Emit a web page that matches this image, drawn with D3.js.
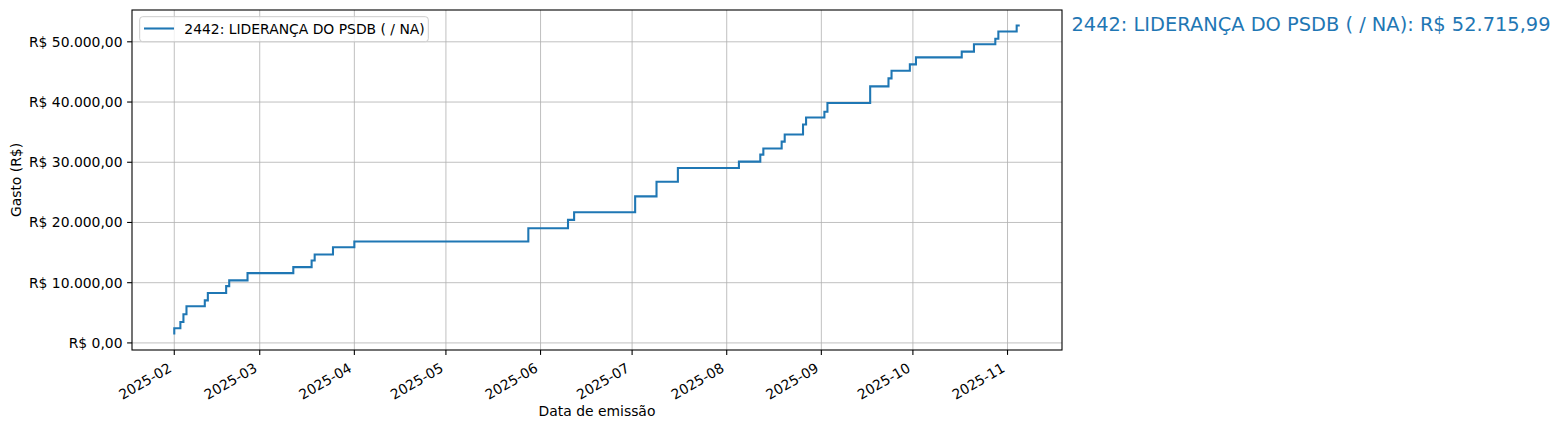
<!DOCTYPE html>
<html><head><meta charset="utf-8">
<script src="https://cdn.jsdelivr.net/npm/d3@7"></script>
<style>body{margin:0;background:#fff;} text{font-family:"DejaVu Sans",sans-serif;}</style>
</head><body>
<svg id="c" width="1561" height="430"></svg>
<script>
const dates = ["2025-02-01","2025-02-03","2025-02-04","2025-02-05","2025-02-11","2025-02-12","2025-02-18","2025-02-19","2025-02-25",
"2025-03-12","2025-03-18","2025-03-19","2025-03-25","2025-04-01","2025-05-28","2025-06-10","2025-06-12","2025-07-02","2025-07-09",
"2025-07-16","2025-08-05","2025-08-12","2025-08-13","2025-08-19","2025-08-20","2025-08-26","2025-08-27","2025-09-02","2025-09-03",
"2025-09-17","2025-09-23","2025-09-24","2025-09-30","2025-10-02","2025-10-17","2025-10-21","2025-10-28","2025-10-29","2025-11-04","2025-11-05"];
const values = [1390,2434,3477,4752,6076,7070,8278,9437,10381,
11589,12583,13692,14685,15894,16838,19040,20430,21690,24340,
26770,29050,30100,31270,32270,33430,34600,36270,37430,38380,
39850,42600,43930,45200,46250,47420,48370,49600,50500,51700,52715.99];
const yTicks = [0,10000,20000,30000,40000,50000];
const xTickLabels = ["2025-02","2025-03","2025-04","2025-05","2025-06","2025-07","2025-08","2025-09","2025-10","2025-11"];
const seriesName = "2442: LIDERANÇA DO PSDB ( / NA)";
const yLabel = "Gasto (R$)";
const xLabel = "Data de emissão";

const L=132, R=1062, T=10, B=350;
const svg = d3.select("#c");
const parse = d3.utcParse("%Y-%m-%d");
const data = dates.map((d,i)=>({d:parse(d), v:values[i]}));

const xmin = d3.min(data,d=>d.d), xmax = d3.max(data,d=>d.d);
const xr = xmax - xmin;
const x = d3.scaleUtc().domain([new Date(+xmin - 0.05*xr), new Date(+xmax + 0.05*xr)]).range([L,R]);
const vmin = d3.min(values), vmax = d3.max(values), vr = vmax - vmin;
const y = d3.scaleLinear().domain([vmin-0.05*vr, vmax+0.05*vr]).range([B,T]);

const fmt = v => "R$ " + d3.format(",.2f")(v).replace(/,/g,"#").replace(/\./g,",").replace(/#/g,".");

const xTicks = xTickLabels.map(s=>parse(s+"-01"));

// grid
const g = svg.append("g");
g.selectAll(".gx").data(xTicks).enter().append("line")
 .attr("x1",d=>x(d)).attr("x2",d=>x(d)).attr("y1",T).attr("y2",B)
 .attr("stroke","#b0b0b0").attr("stroke-width",0.8);
g.selectAll(".gy").data(yTicks).enter().append("line")
 .attr("x1",L).attr("x2",R).attr("y1",d=>y(d)).attr("y2",d=>y(d))
 .attr("stroke","#b0b0b0").attr("stroke-width",0.8);

// line
const line = d3.line().x(d=>x(d.d)).y(d=>y(d.v)).curve(d3.curveStepBefore);
svg.append("path").datum(data).attr("d",line).attr("fill","none")
 .attr("stroke","#1f77b4").attr("stroke-width",2.08).attr("stroke-linejoin","miter").attr("stroke-linecap","butt");

// spines
svg.append("rect").attr("x",L).attr("y",T).attr("width",R-L).attr("height",B-T)
 .attr("fill","none").attr("stroke","#000").attr("stroke-width",1.1);

// y ticks
yTicks.forEach(v=>{
  svg.append("line").attr("x1",L-4.9).attr("x2",L).attr("y1",y(v)).attr("y2",y(v)).attr("stroke","#000").attr("stroke-width",1.1);
  svg.append("text").attr("x",L-9.5).attr("y",y(v)).attr("dy","0.36em").attr("text-anchor","end")
   .attr("font-size",13.9).attr("fill","#000").text(fmt(v));
});
// x ticks
xTicks.forEach((d,i)=>{
  const px = x(d);
  svg.append("line").attr("x1",px).attr("x2",px).attr("y1",B).attr("y2",B+4.9).attr("stroke","#000").attr("stroke-width",1.1);
  svg.append("text").attr("transform",`translate(${px-1.6},${B+9.7+11.2}) rotate(-30)`)
   .attr("text-anchor","end").attr("font-size",13.9).attr("fill","#000").text(xTickLabels[i]);
});

// axis labels
svg.append("text").attr("x",(L+R)/2).attr("y",416).attr("text-anchor","middle").attr("font-size",13.9).text(xLabel);
svg.append("text").attr("transform",`translate(21,${(T+B)/2}) rotate(-90)`).attr("text-anchor","middle").attr("font-size",13.9).text(yLabel);

// legend
const lg = svg.append("g");
lg.append("rect").attr("x",139.7).attr("y",16.7).attr("width",288.6).attr("height",25).attr("rx",3)
 .attr("fill","#fff").attr("fill-opacity",0.8).attr("stroke","#cccccc").attr("stroke-width",1);
lg.append("line").attr("x1",144).attr("x2",174).attr("y1",28.5).attr("y2",28.5).attr("stroke","#1f77b4").attr("stroke-width",2.08);
lg.append("text").attr("x",184.3).attr("y",33.5).attr("font-size",13.9).attr("fill","#000").text(seriesName);

// annotation
svg.append("text").attr("x",1071.5).attr("y",31).attr("font-size",19.4).attr("fill","#1f77b4")
 .text(seriesName + ": " + fmt(values[values.length-1]));
</script>
</body></html>
